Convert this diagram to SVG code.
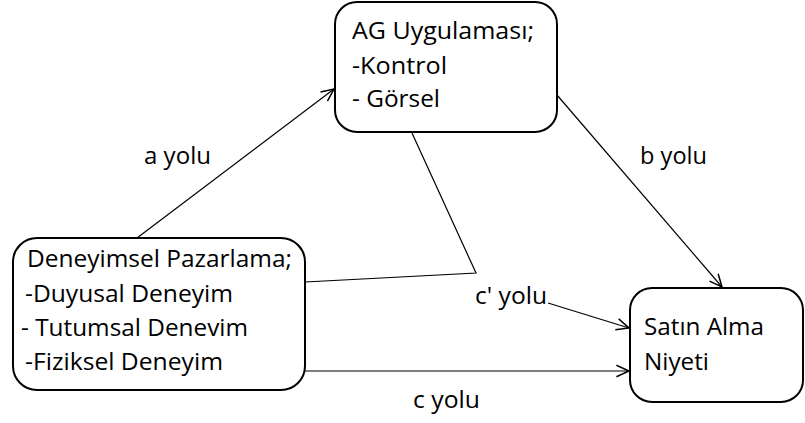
<svg xmlns="http://www.w3.org/2000/svg" width="805" height="423" viewBox="0 0 805 423">
  <style>
    .box { fill: #ffffff; stroke: #000000; stroke-width: 2; }
    .txt { font-family: "Open Sans", "Liberation Sans", sans-serif; font-size: 23px; fill: #000000; }
    .wire { fill: none; stroke: #000000; stroke-width: 1.2; }
  </style>
  <defs>
    <marker id="arrow" markerUnits="userSpaceOnUse" markerWidth="16" markerHeight="16" refX="12" refY="6" orient="auto" viewBox="0 0 14 12">
      <path d="M1,1 L12,6 L1,11" fill="none" stroke="#000000" stroke-width="1.3"/>
    </marker>
  </defs>

  <rect width="805" height="423" fill="#ffffff"/>

  <!-- connectors -->
  <g id="connectors">
    <!-- a path -->
    <line class="wire" x1="137" y1="238" x2="334" y2="89" marker-end="url(#arrow)"/>
    <!-- b path -->
    <line class="wire" x1="557" y1="95" x2="722" y2="287" marker-end="url(#arrow)"/>
    <!-- c' path: through the mediator -->
    <polyline class="wire" points="305,282 476,273 412,133"/>
    <line class="wire" x1="548" y1="303" x2="629" y2="328" marker-end="url(#arrow)"/>
    <!-- c path -->
    <line class="wire" x1="305" y1="371" x2="629" y2="371" marker-end="url(#arrow)"/>
  </g>

  <g id="node-ag">
    <rect class="box" x="335" y="2" width="222" height="130" rx="22" ry="22"/>
    <text class="txt" x="352" y="39" textLength="182" lengthAdjust="spacingAndGlyphs">AG Uygulaması;</text>
    <text class="txt" x="352" y="74" textLength="95" lengthAdjust="spacingAndGlyphs">-Kontrol</text>
    <text class="txt" x="352" y="107" textLength="88" lengthAdjust="spacingAndGlyphs">- Görsel</text>
  </g>

  <g id="node-deneyimsel">
    <rect class="box" x="13" y="238" width="292" height="152" rx="24" ry="24"/>
    <text class="txt" x="27" y="267" textLength="265" lengthAdjust="spacingAndGlyphs">Deneyimsel Pazarlama;</text>
    <text class="txt" x="25" y="302" textLength="208" lengthAdjust="spacingAndGlyphs">-Duyusal Deneyim</text>
    <text class="txt" x="21" y="336" textLength="227" lengthAdjust="spacingAndGlyphs">- Tutumsal Denevim</text>
    <text class="txt" x="25" y="370" textLength="198" lengthAdjust="spacingAndGlyphs">-Fiziksel Deneyim</text>
  </g>

  <g id="node-satin-alma">
    <rect class="box" x="630" y="288" width="173" height="114" rx="22" ry="22"/>
    <text class="txt" x="644" y="335" textLength="120" lengthAdjust="spacingAndGlyphs">Satın Alma</text>
    <text class="txt" x="644" y="370" textLength="65" lengthAdjust="spacingAndGlyphs">Niyeti</text>
  </g>

  <!-- path labels -->
  <g id="labels">
    <text class="txt" x="144" y="164" textLength="67" lengthAdjust="spacingAndGlyphs">a yolu</text>
    <text class="txt" x="640" y="164" textLength="67" lengthAdjust="spacingAndGlyphs">b yolu</text>
    <text class="txt" x="475" y="304" textLength="72" lengthAdjust="spacingAndGlyphs">c' yolu</text>
    <text class="txt" x="413" y="408" textLength="67" lengthAdjust="spacingAndGlyphs">c yolu</text>
  </g>
</svg>
